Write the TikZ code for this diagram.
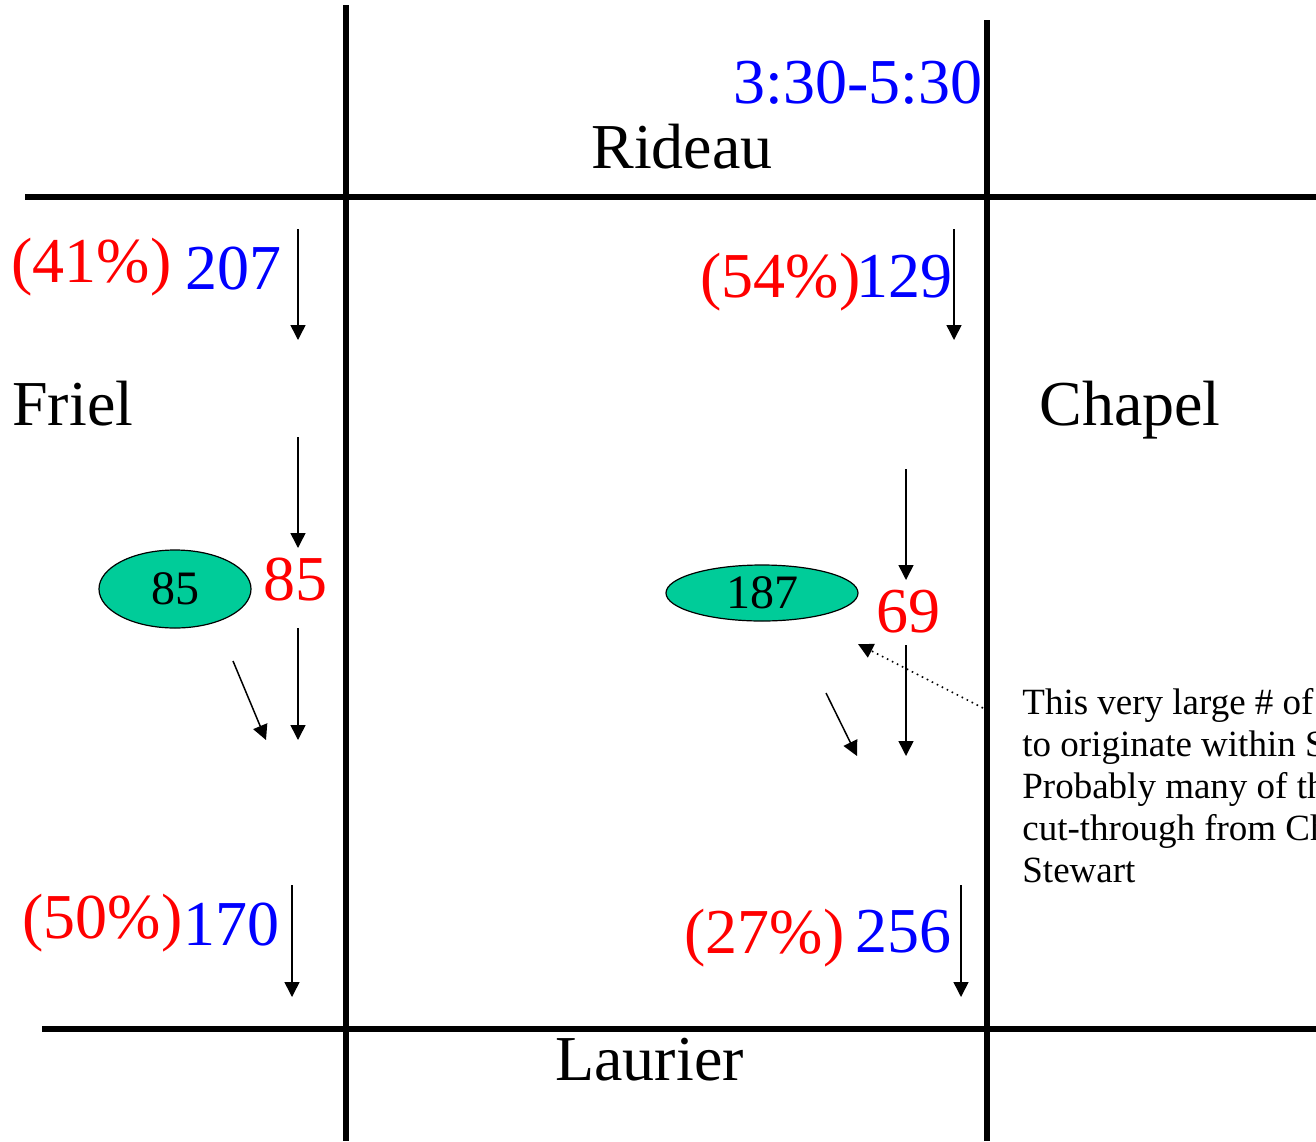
\documentclass[tikz,border=0pt]{standalone}
\usepackage{fontspec}
\setmainfont{Liberation Serif}
\usetikzlibrary{arrows.meta,shapes.geometric}
\definecolor{lotgreen}{RGB}{0,204,153}

\begin{document}
\begin{tikzpicture}[x=0.5pt,y=-0.5pt,
    street/.style={draw=black,line width=3pt},
    flow/.style={draw=black,line width=0.75pt,-{Triangle[width=7.5pt,length=7.5pt]}},
    big/.style={font=\fontsize{32}{38}\selectfont,inner sep=0pt,anchor=base west},
    pct/.style={big,text=red},
    vol/.style={big,text=blue},
    lot/.style={ellipse,draw=black,line width=0.6pt,fill=lotgreen,inner sep=0pt,
                font=\fontsize{24}{28}\selectfont}]
                \useasboundingbox (0,0) rectangle (1316,1141);
                %%% Streets
                \draw[street] (25,197) -- (1316,197);
                \draw[street] (42,1029) -- (1316,1029);
                \draw[street] (346,5) -- (346,1141);
                \draw[street] (987,20) -- (987,1141);
                %%% Street names and time
                \node[big] (rideau) at (591,168) {Rideau};
                \node[big] (laurier) at (555,1080) {Laurier};
                \node[big] (friel) at (12,425) {Friel};
                \node[big] (chapel) at (1039,425) {Chapel};
                \node[vol] (time) at (733,103) {3:30-5:30};
                %%% Counts at Rideau
                \node[pct] (pctfrielN) at (11,282) {(41\%)};
                \node[vol] (volfrielN) at (185,289) {207};
                \node[pct] (pctchapelN) at (700,297) {(54\%)};
                \node[vol] (volchapelN) at (856,297) {129};
                %%% Counts at Laurier
                \node[pct] (pctfrielS) at (22,938) {(50\%)};
                \node[vol] (volfrielS) at (183,945) {170};
                \node[pct] (pctchapelS) at (684,953) {(27\%)};
                \node[vol] (volchapelS) at (855,952) {256};
                %%% Lots and mid-block counts
                \node[lot,minimum width=76pt,minimum height=39pt] (lotfriel) at (175,589) {85};
                \node[lot,minimum width=96pt,minimum height=28pt] (lotchapel) at (762,593) {187};
                \node[pct] (midfriel) at (263,600) {85};
                \node[pct] (midchapel) at (876,632) {69};
                %%% Flow arrows on Friel
                \draw[flow] (298,229) -- (298,340);
                \draw[flow] (298,437) -- (298,548);
                \draw[flow] (298,628) -- (298,740);
                \draw[flow] (233,661) -- (266,740);
                \draw[flow] (292,885) -- (292,997);
                %%% Flow arrows on Chapel
                \draw[flow] (954,229) -- (954,340);
                \draw[flow] (906,469) -- (906,580);
                \draw[flow] (906,645) -- (906,756);
                \draw[flow] (826,693) -- (857,756);
                \draw[flow] (961,885) -- (961,997);
                %%% Note (runs off the page as in the original)
                \node[anchor=north west,align=left,inner sep=0pt,
                      font=\fontsize{18.5}{21}\selectfont] (note) at (1022,688)
                      {This very large \# of\\to originate within S\\Probably many of th\\cut-through from Ch\\Stewart};
                \coordinate (notetail) at (983,708);
                \coordinate (notehead) at (858,644);
                \draw[flow,line width=0.8pt,dotted] (notetail) -- (notehead);
\end{tikzpicture}
\end{document}
